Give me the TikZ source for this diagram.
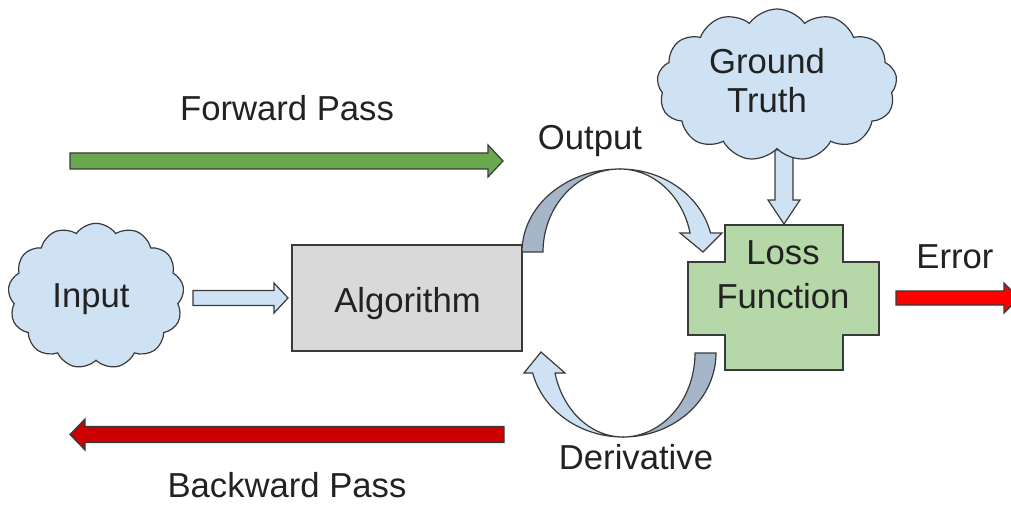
\documentclass[tikz,border=0pt]{standalone}
\usepackage{fontspec}
\setmainfont{Liberation Sans}
\usetikzlibrary{shapes.symbols}
\definecolor{cloudblue}{HTML}{CFE2F3}
\definecolor{darkblue}{HTML}{A5B6C8}
\definecolor{algogray}{HTML}{D9D9D9}
\definecolor{lossgreen}{HTML}{B6D7A8}
\definecolor{fwdgreen}{HTML}{6AA84F}
\definecolor{bwdred}{HTML}{CC0000}
\definecolor{errred}{HTML}{FF0000}
\definecolor{linegray}{HTML}{3A3A3A}
\definecolor{textgray}{HTML}{222222}
\begin{document}
\begin{tikzpicture}[x=0.75pt,y=-0.75pt,
  lbl/.style={font=\fontsize{26}{30}\selectfont, anchor=base, inner sep=0pt, text=textgray},
  shapeline/.style={draw=linegray, line width=0.9pt, line join=miter},
  cloudst/.style={shape=cloud, cloud puffs=13, cloud puff arc=110, cloud ignores aspect,
    draw=linegray, fill=cloudblue, line width=0.9pt, inner sep=0pt}]
\useasboundingbox (0,0) rectangle (1011,506);

% forward / backward passes
\node[lbl] (fwdlabel) at (287,121) {Forward Pass};
\draw[shapeline, fill=fwdgreen] (70,153) -- (488,153) -- (488,145) -- (503,161) -- (488,177) -- (488,169) -- (70,169) -- cycle;
\draw[shapeline, fill=bwdred] (504,426.5) -- (85,426.5) -- (85,419) -- (70,434.5) -- (85,450) -- (85,442.5) -- (504,442.5) -- cycle;
\node[lbl] (bwdlabel) at (287,497) {Backward Pass};

% input
\draw[shapeline, fill=cloudblue] (193,290.5) -- (274,290.5) -- (274,283) -- (288,298) -- (274,313) -- (274,305.5) -- (193,305.5) -- cycle;
\node[cloudst, minimum width=132pt, minimum height=109pt] (input) at (96,296) {};
\node[lbl] (inputlabel) at (91,307) {Input};

% algorithm
\node[shapeline, fill=algogray, minimum width=172.5pt, minimum height=79.5pt, inner sep=0pt] (algo) at (407,298) {};
\node[lbl] (algolabel) at (407.5,312) {Algorithm};

% ground truth
\draw[shapeline, fill=cloudblue] (775,150) -- (793,150) -- (793,200) -- (800,200) -- (784,224) -- (768,200) -- (775,200) -- cycle;
\node[cloudst, minimum width=180pt, minimum height=114pt] (gt) at (777,85) {};
\node[lbl] (gtlabel1) at (767,74) {Ground};
\node[lbl] (gtlabel2) at (767,113) {Truth};

% loss function
\draw[shapeline, fill=lossgreen] (725,225) -- (843,225) -- (843,262) -- (879,262) -- (879,335) -- (843,335) -- (843,370) -- (725,370) -- (725,335) -- (688,335) -- (688,262) -- (725,262) -- cycle;
\node[lbl] (losslabel1) at (783,265) {Loss};
\node[lbl] (losslabel2) at (783,309) {Function};

% error
\node[lbl] (errlabel) at (955,268) {Error};
\draw[shapeline, fill=errred] (896,291) -- (1004,291) -- (1004,283) -- (1019,298) -- (1004,313) -- (1004,305) -- (896,305) -- cycle;

% output curved arrow
\node[lbl] (outlabel) at (590,150) {Output};
\draw[shapeline, fill=darkblue] plot[domain=180:270, samples=40] ({620+98*cos(\x)},{252+83*sin(\x)})
  -- plot[domain=270:180, samples=40] ({620+77*cos(\x)},{252+83*sin(\x)}) -- cycle;
\draw[shapeline, fill=cloudblue] plot[domain=270:346.8, samples=40] ({620+93*cos(\x)},{252+83*sin(\x)})
  -- (722,233) -- (703,252) -- (680,233) --
  plot[domain=346.8:270, samples=40] ({620+72*cos(\x)},{252+83*sin(\x)}) -- cycle;

% derivative curved arrow
\draw[shapeline, fill=darkblue] plot[domain=0:90, samples=40] ({623+93*cos(\x)},{353+84*sin(\x)})
  -- plot[domain=90:0, samples=40] ({623+72*cos(\x)},{353+84*sin(\x)}) -- cycle;
\draw[shapeline, fill=cloudblue] plot[domain=90:166.2, samples=40] ({623+93*cos(\x)},{353+84*sin(\x)})
  -- (524,373) -- (541,352) -- (565,373) --
  plot[domain=166.2:90, samples=40] ({623+70*cos(\x)},{353+84*sin(\x)}) -- cycle;
\node[lbl] (derivlabel) at (636,469) {Derivative};
\end{tikzpicture}
\end{document}
